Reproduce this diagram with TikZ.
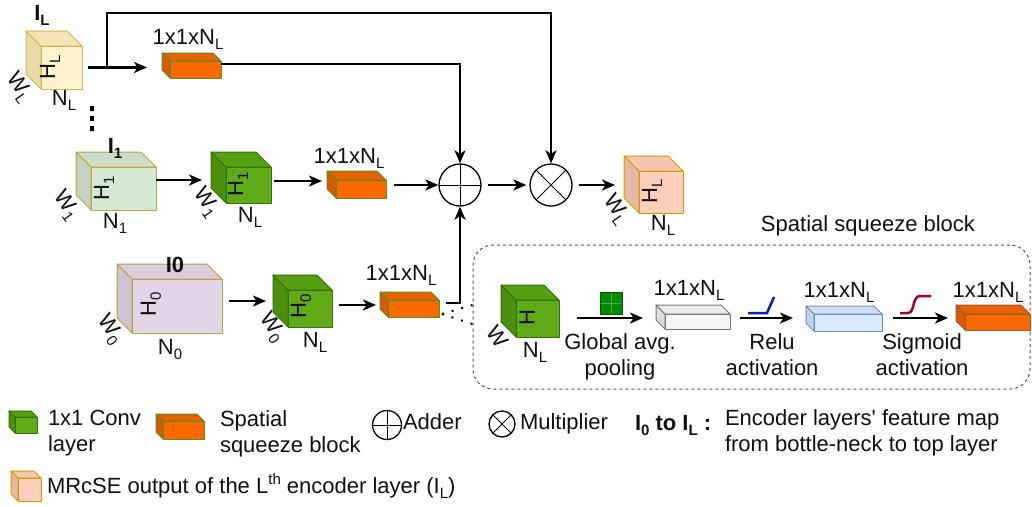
\documentclass[tikz,border=0pt]{standalone}
\usepackage{fontspec}
\setmainfont{Liberation Sans}[Ligatures=TeXOff]
\usetikzlibrary{arrows.meta,calc}
\definecolor{txt}{HTML}{111111}
\definecolor{yelF}{HTML}{FFF2CC}\definecolor{yelS}{HTML}{E9DAA8}\definecolor{yelT}{HTML}{F3E5B6}\definecolor{yelB}{HTML}{D6B656}
\definecolor{grnF}{HTML}{D5E8D4}\definecolor{grnS}{HTML}{C5D2C2}\definecolor{grnT}{HTML}{CCDCC9}\definecolor{grnB}{HTML}{BFA63F}
\definecolor{purF}{HTML}{E1D5E7}\definecolor{purS}{HTML}{CEC2D3}\definecolor{purT}{HTML}{D9CDDF}\definecolor{purB}{HTML}{BBA43A}
\definecolor{cvF}{HTML}{60A917}\definecolor{cvS}{HTML}{4E8F10}\definecolor{cvT}{HTML}{569D14}\definecolor{cvB}{HTML}{2D7600}
\definecolor{orF}{HTML}{FA6800}\definecolor{orS}{HTML}{D95A00}\definecolor{orT}{HTML}{E86200}\definecolor{orB}{HTML}{5F8A1E}
\definecolor{obF}{HTML}{FA6800}\definecolor{obS}{HTML}{D95A00}\definecolor{obT}{HTML}{E86200}\definecolor{obB}{HTML}{9A5A3A}
\definecolor{whF}{HTML}{F5F5F5}\definecolor{whS}{HTML}{DDDDDD}\definecolor{whT}{HTML}{EBEBEB}\definecolor{whB}{HTML}{777777}
\definecolor{blF}{HTML}{DAE8FC}\definecolor{blS}{HTML}{C5D4EA}\definecolor{blT}{HTML}{D0DEF4}\definecolor{blB}{HTML}{6C8EBF}
\definecolor{saF}{HTML}{FDCFBC}\definecolor{saS}{HTML}{E6B8A6}\definecolor{saT}{HTML}{F4C6B2}\definecolor{saB}{HTML}{D79B00}
\definecolor{dashc}{HTML}{555555}
\definecolor{gridF}{HTML}{008A00}\definecolor{gridB}{HTML}{005700}\definecolor{gridL}{HTML}{4CB04C}
\definecolor{reluc}{HTML}{0A1FB5}\definecolor{sigc}{HTML}{A20035}
\newcommand{\mysub}[1]{\raisebox{-5pt}{\fontsize{15}{15}\selectfont #1}}
\newcommand{\mysup}[1]{\raisebox{9pt}{\fontsize{15}{15}\selectfont #1}}
\newcommand{\mkcube}[7]{%
  \filldraw[fill=#7S,draw=#7B,cubeline] (#2,#3) -- (#2-#6,#3-#6) -- (#2-#6,#5-#6) -- (#2,#5) -- cycle;
  \filldraw[fill=#7T,draw=#7B,cubeline] (#2,#3) -- (#2-#6,#3-#6) -- (#4-#6,#3-#6) -- (#4,#3) -- cycle;
  \node[draw=#7B,fill=#7F,cubeline,inner sep=0pt,outer sep=0pt,minimum width={#4-#2},minimum height={#5-#3},anchor=north west] (#1) at (#2,#3) {};
}
\tikzset{
  arr/.style={line width=2.1pt,-{Stealth[length=13pt,width=11pt,inset=3.5pt]}},
  dotline/.style={line width=2pt,dash pattern=on 2pt off 8pt},
  cubeline/.style={line width=1pt,line join=round},
  lbl/.style={inner sep=0pt,outer sep=0pt,font=\fontsize{22}{26}\selectfont,text=txt},
  bl/.style={lbl,font=\fontsize{22}{26}\selectfont\bfseries},
  rot/.style={lbl,rotate=90},
  wl/.style={lbl,rotate=-55},
  opcirc/.style={circle,draw,line width=1.3pt,minimum size=42pt,inner sep=0pt,fill=white},
  adderpic/.style={path picture={\draw[line width=1pt] (path picture bounding box.north) -- (path picture bounding box.south) (path picture bounding box.west) -- (path picture bounding box.east);}},
  multpic/.style={path picture={\draw[line width=1pt] (path picture bounding box.north west) -- (path picture bounding box.south east) (path picture bounding box.south west) -- (path picture bounding box.north east);}},
}
\begin{document}
\begin{tikzpicture}[x=1pt,y=-1pt]
\fill[white] (0,0) rectangle (1032,506);
\useasboundingbox (0,0) rectangle (1032,506);
% helper coordinates
\coordinate (topc) at (0,13);
\coordinate (o1line) at (0,64);
\coordinate (r1) at (0,180);
\coordinate (r1b) at (0,181);
\coordinate (r0) at (0,301);
\coordinate (r0b) at (0,305);
\coordinate (r0c) at (0,303);
\coordinate (rb) at (0,318);
\coordinate (d1) at (0,305);
\coordinate (d2) at (0,324);
% spatial squeeze block frame
\node[draw=dashc,line width=1pt,dash pattern=on 3pt off 3pt,rounded corners=20pt,minimum width=557pt,minimum height=144pt,inner sep=0pt] (SSB) at (751.5,317) {};
\node[lbl,anchor=base] (SSBt) at (868,231) {Spatial squeeze block};
% top row
\mkcube{IL}{41}{46}{82}{89}{15}{yel}
\node[bl] (ILt) at (42,15) {I\mysub{L}};
\node[rot] (ILh) at (50,67) {H\mysub{L}};
\node[wl] (ILw) at (19,88) {W\mysub{L}};
\node[lbl] (ILn) at (64,100) {N\mysub{L}};
\mkcube{O1}{170}{61}{221}{78}{8}{or}
\node[lbl] (O1t) at (188,39) {1x1xN\mysub{L}};
\fill[black] (90,106) rectangle (94,111) (90,116) rectangle (94,121) (90,126) rectangle (94,131);
% row 1
\mkcube{I1}{91}{167}{156}{210}{15}{grn}
\node[bl] (I1t) at (115,148) {I\mysub{1}};
\node[rot] (I1h) at (104,188) {H\mysub{1}};
\node[wl] (I1w) at (66,206) {W\mysub{1}};
\node[lbl] (I1n) at (115,223) {N\mysub{1}};
\mkcube{G1}{226}{167}{271}{203}{15}{cv}
\node[rot] (G1h) at (238,184) {H\mysub{1}};
\node[wl] (G1w) at (206,203) {W\mysub{1}};
\node[lbl] (G1n) at (250,217) {N\mysub{L}};
\mkcube{O2}{336}{180}{386}{198}{9}{or}
\node[lbl] (O2t) at (349,158) {1x1xN\mysub{L}};
\node[opcirc,adderpic] (A) at (460,185) {};
\node[opcirc,multpic] (M) at (551,185) {};
\mkcube{Out}{639}{171}{683}{213}{15}{sa}
\node[rot] (Outh) at (652,191) {H\mysub{L}};
\node[wl] (Outw) at (616,210) {W\mysub{L}};
\node[lbl] (Outn) at (663,225) {N\mysub{L}};
% row 0
\mkcube{I0}{132}{279}{222}{333}{15}{pur}
\node[bl] (I0t) at (175,265) {I0};
\node[rot] (I0h) at (151,304) {H\mysub{0}};
\node[wl] (I0w) at (110,330) {W\mysub{0}};
\node[lbl] (I0n) at (170,349) {N\mysub{0}};
\mkcube{G0}{288}{290}{332}{327}{15}{cv}
\node[rot] (G0h) at (301,306) {H\mysub{0}};
\node[wl] (G0w) at (272,328) {W\mysub{0}};
\node[lbl] (G0n) at (315,342) {N\mysub{L}};
\mkcube{O0}{388}{300}{439}{317}{8}{or}
\node[lbl] (O0t) at (401,275) {1x1xN\mysub{L}};
% connectors main
\draw[arr] ([xshift=6pt]IL.east) -- ([xshift=-23pt]O1.west |- IL.east);
\draw[arr] ([xshift=25pt]IL.east) -- ([xshift=25pt]IL.east |- topc) -| (M.north);
\draw[arr] (O1.east |- o1line) -| (A.north);
\draw[arr] (I1.east |- r1) -- ([xshift=-24pt]G1.west |- r1);
\draw[arr] ([xshift=3pt]G1.east |- r1b) -- ([xshift=-14pt]O2.west |- r1b);
\draw[arr] ([xshift=8pt]O2.east |- A.west) -- (A.west);
\draw[arr] ([xshift=6pt]A.east) -- ([xshift=-3pt]M.west);
\draw[arr] ([xshift=6pt]M.east) -- ([xshift=-24pt]Out.west |- M.east);
\draw[arr] ([xshift=7pt]I0.east |- r0) -- ([xshift=-22pt]G0.west |- r0);
\draw[arr] ([xshift=7pt]G0.east |- r0b) -- ([xshift=-12pt]O0.west |- r0b);
\draw[arr] ([xshift=7pt]O0.east |- r0c) -| (A.south);
\draw[dotline] ([xshift=3pt,yshift=-5.5pt]O0.east) -- (SSB.west |- d1);
\draw[dotline] ([xshift=3pt,yshift=-5.5pt]O0.east) -- (SSB.west |- d2);
% inside block
\mkcube{Gs}{516}{300}{559}{337}{15}{cv}
\node[rot] (Gsh) at (527,318) {H};
\node[wl] (Gsw) at (498,337) {W};
\node[lbl] (Gsn) at (535,352) {N\mysub{L}};
\filldraw[fill=gridF,draw=gridB,line width=0.8pt] (600,292) rectangle (622,314);
\draw[gridL,line width=0.8pt] (611,293) -- (611,313) (601,303) -- (621,303);
\node[lbl,align=center,anchor=north] (Gpt) at (620,334) {Global avg.\\pooling};
\mkcube{Wb}{665}{314}{730}{329}{9}{wh}
\node[lbl] (Wbt) at (689,290) {1x1xN\mysub{L}};
\draw[reluc,line width=2.5pt] (748,313) -- (767,313) -- (774,297);
\node[lbl,align=center,anchor=north] (Rlt) at (772,334) {Relu\\activation};
\mkcube{Bb}{814}{314}{882}{331}{8}{bl}
\node[lbl] (Bbt) at (839,292) {1x1xN\mysub{L}};
\draw[sigc,line width=2.5pt] (900,313) -- (908,313) .. controls (915,313) and (912,296) .. (920,296) -- (931,296);
\node[lbl,align=center,anchor=north] (Sgt) at (922,334) {Sigmoid\\activation};
\mkcube{Ob}{965}{314}{1030}{330}{9}{ob}
\node[lbl] (Obt) at (988,292) {1x1xN\mysub{L}};
\draw[arr] ([xshift=18pt]Gs.east |- rb) -- ([xshift=-22pt]Wb.west |- rb);
\draw[arr] ([xshift=10pt]Wb.east |- rb) -- ([xshift=-21pt]Bb.west |- rb);
\draw[arr] ([xshift=11pt]Bb.east |- rb) -- ([xshift=-17pt]Ob.west |- rb);
% legend
\mkcube{lgG}{15}{417}{37}{433}{6}{cv}
\node[lbl,align=left,anchor=north west] (lgGt) at (48,410) {1x1 Conv\\layer};
\mkcube{lgO}{163}{421}{204}{439}{7}{or}
\node[lbl,align=left,anchor=north west] (lgOt) at (220,411) {Spatial\\squeeze block};
\node[opcirc,minimum size=29pt,adderpic] (lgA) at (387,425) {};
\node[lbl,anchor=base west] (lgAt) at (403,429) {Adder};
\node[opcirc,minimum size=26pt,multpic] (lgM) at (502,424) {};
\node[lbl,anchor=base west] (lgMt) at (520,429) {Multiplier};
\node[bl,anchor=base west] (lgI) at (635,430) {I\mysub{0} to I\mysub{L} :};
\node[lbl,align=left,anchor=north west] (lgIt) at (725,410) {Encoder layers' feature map\\from bottle-neck to top layer};
\mkcube{lgS}{18}{478}{41}{501}{7}{sa}
\node[lbl,anchor=base west] (lgSt) at (47,493) {MRcSE output of the L\mysup{th} encoder layer (I\mysub{L})};
\end{tikzpicture}
\end{document}
